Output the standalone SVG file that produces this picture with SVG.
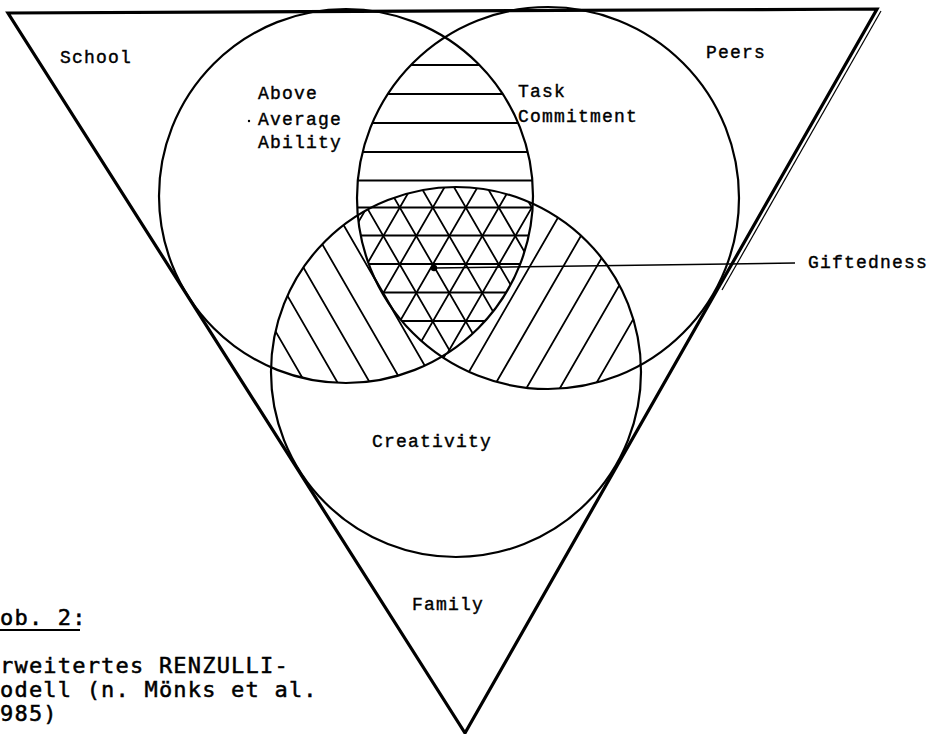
<svg xmlns="http://www.w3.org/2000/svg" width="933" height="734" viewBox="0 0 933 734">
<style>
.tri{fill:none;stroke:#000;stroke-width:3.2;stroke-linejoin:miter}
.cir{fill:none;stroke:#000;stroke-width:2.2}
.h{stroke:#000;stroke-width:1.8;fill:none}
.lbl{font-family:"Liberation Mono","DejaVu Sans Mono",monospace;font-size:18px;letter-spacing:1.2px;fill:#000;stroke:#000;stroke-width:0.4}
.cap{font-family:"DejaVu Sans Mono","Liberation Mono",monospace;font-size:22px;letter-spacing:1.2px;fill:#000;stroke:#000;stroke-width:0.5}
</style>
<defs>
<clipPath id="cL"><circle cx="346" cy="196" r="187"/></clipPath>
<clipPath id="cR"><circle cx="548" cy="198" r="191"/></clipPath>
<clipPath id="cC"><circle cx="456" cy="372" r="185"/></clipPath>
<clipPath id="cNotR"><path clip-rule="evenodd" d="M0 0H933V734H0Z M357 198a191 191 0 1 0 382 0a191 191 0 1 0 -382 0Z"/></clipPath>
<clipPath id="cNotL"><path clip-rule="evenodd" d="M0 0H933V734H0Z M159 196a187 187 0 1 0 374 0a187 187 0 1 0 -374 0Z"/></clipPath>
</defs>
<rect width="933" height="734" fill="#fff"/>

<g id="hatching">
  <g clip-path="url(#cL)"><g clip-path="url(#cR)">
    <path class="h" d="M330 65H570M330 94H570M330 123H570M330 152H570M330 180.5H570M330 207.5H570M330 235.5H570M330 264H570M330 292.5H570M330 321H570"/>
  </g></g>
  <g clip-path="url(#cL)"><g clip-path="url(#cR)"><g clip-path="url(#cC)">
    <path class="h" d="M234.5 150L367.7 380M267.5 150L400.7 380M300.5 150L433.7 380M333.5 150L466.7 380M366.5 150L499.7 380M399.5 150L532.7 380M432.5 150L565.7 380M465.5 150L598.7 380M498.5 150L631.7 380M531.5 150L664.7 380"/>
    <path class="h" d="M367.1 150L233.9 380M400.1 150L266.9 380M433.1 150L299.9 380M466.1 150L332.9 380M499.1 150L365.9 380M532.1 150L398.9 380M565.1 150L431.9 380M598.1 150L464.9 380M631.1 150L497.9 380M664.1 150L530.9 380"/>
  </g></g></g>
  <g clip-path="url(#cL)"><g clip-path="url(#cC)"><g clip-path="url(#cNotR)">
    <path class="h" d="M155.9 180L282.9 400M188.2 180L315.2 400M220.6 180L347.6 400M252.9 180L379.9 400M285.2 180L412.2 400M317.6 180L444.6 400M349.9 180L476.9 400M382.2 180L509.2 400"/>
  </g></g></g>
  <g clip-path="url(#cR)"><g clip-path="url(#cC)"><g clip-path="url(#cNotL)">
    <path class="h" d="M546.2 180L419.2 400M579.7 180L452.7 400M613.2 180L486.1 400M646.7 180L519.6 400M680.1 180L553.1 400M713.6 180L586.6 400M747.1 180L620.1 400"/>
  </g></g></g>
</g>

<g id="triangle">
  <path class="tri" d="M8 13L877 9L465 733Z"/>
  <path d="M881 11L722 290" stroke="#000" stroke-width="1.2" fill="none"/>
</g>

<g id="ability">
  <circle class="cir" cx="346" cy="196" r="187"/>
  <circle cx="249" cy="121" r="1.2" fill="#000"/>
  <text class="lbl" x="258" y="99">Above</text>
  <text class="lbl" x="258" y="125">Average</text>
  <text class="lbl" x="258" y="148">Ability</text>
</g>
<g id="commitment">
  <circle class="cir" cx="548" cy="198" r="191"/>
  <text class="lbl" x="518" y="97">Task</text>
  <text class="lbl" x="518" y="122">Commitment</text>
</g>
<g id="creativity">
  <circle class="cir" cx="456" cy="372" r="185"/>
  <text class="lbl" x="372" y="447">Creativity</text>
</g>
<g id="school"><text class="lbl" x="60" y="63">School</text></g>
<g id="peers"><text class="lbl" x="706" y="58">Peers</text></g>
<g id="family"><text class="lbl" x="412" y="610">Family</text></g>
<g id="giftedness"><text class="lbl" x="808" y="268">Giftedness</text></g>

<g id="connectors">
  <circle cx="434" cy="268" r="3.2" fill="#000"/>
  <path d="M434 268L795 263" stroke="#000" stroke-width="1.6" fill="none"/>
</g>

<g id="caption">
  <text class="cap" x="0" y="625">ob. 2:</text>
  <path d="M0 630H80" stroke="#000" stroke-width="2"/>
  <text class="cap" x="0" y="673">rweitertes RENZULLI-</text>
  <text class="cap" x="0" y="697">odell (n. Mönks et al.</text>
  <text class="cap" x="0" y="721">985)</text>
</g>
</svg>
